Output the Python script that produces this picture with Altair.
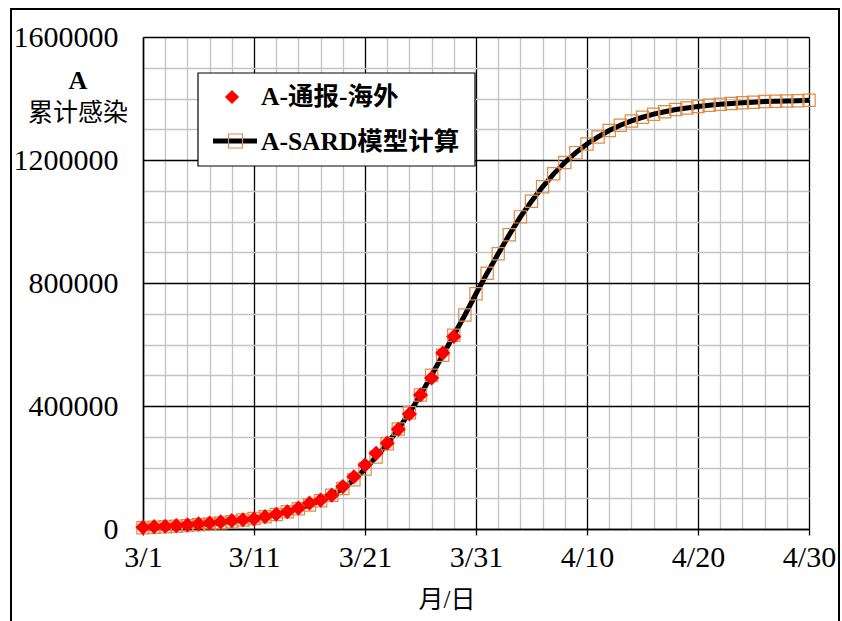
import altair as alt
import pandas as pd

# ---------------- data ----------------
dates = pd.date_range("2020-03-01", "2020-04-30", freq="D")

reported = [5500, 7500, 9000, 11000, 13500, 16500, 19500, 23000, 27000, 30000,
            33000, 40000, 48000, 56000, 68000, 84000, 94000, 110000, 138000, 170000,
            208000, 246000, 279000, 324000, 374000, 436000, 491000, 572000, 626000]

model = [4000, 5500, 7000, 9000, 11000, 13500, 16500, 20000, 24000, 29000,
         34000, 40000, 47000, 56000, 66000, 78000, 92000, 110000, 132000, 160000,
         195000, 234000, 277000, 325000, 378000, 436000, 500000, 565000, 630000, 696000, 765000,
         832000, 895000, 957000, 1015000, 1066000, 1113000, 1155000, 1192000, 1224000, 1252000,
         1275000, 1296000, 1313000, 1327000, 1339000, 1349000, 1357000, 1364000, 1369000, 1374000,
         1378000, 1381000, 1384000, 1386000, 1388000, 1390000, 1391000, 1392000, 1393000, 1394000]

legend_labels = ["A-通报-海外", "A-SARD模型计算"]
y_title_lines = ["A", "累计感染"]
x_title = "月/日"

df_model = pd.DataFrame({"date": dates, "value": model})
df_rep = pd.DataFrame({"date": dates[:len(reported)], "value": reported})
dummy = pd.DataFrame({"k": [0]})

FONT = "Liberation Serif, Noto Sans CJK SC, serif"

x_vals = [alt.DateTime(year=2020, month=int(d.month), date=int(d.day)) for d in dates[::2]]
y_vals = list(range(0, 1600001, 100000))

major_x = "round((datum.value - datetime(2020,2,1)) / 86400000) % 10 == 0"
major_y = "datum.value % 400000 == 0"

x_enc = alt.X(
    "date:T",
    scale=alt.Scale(domain=[alt.DateTime(year=2020, month=3, date=1),
                            alt.DateTime(year=2020, month=4, date=30)]),
    axis=alt.Axis(
        values=x_vals, tickCount=200, title=None, grid=True,
        labelExpr=f"{major_x} ? timeFormat(datum.value, '%-m/%-d') : ''",
        labelFont=FONT, labelFontSize=30, labelColor="black", labelPadding=7,
        labelFlush=False, labelOverlap=False,
        tickSize=6, tickWidth=1.3,
        tickColor={"condition": {"test": major_x, "value": "black"}, "value": "transparent"},
        gridColor={"condition": {"test": major_x, "value": "black"}, "value": "#c4c4c4"},
        gridWidth=1.3, gridOpacity=1,
        domainColor="black", domainWidth=1.5,
    ),
)

y_enc = alt.Y(
    "value:Q",
    scale=alt.Scale(domain=[0, 1600000], nice=False),
    axis=alt.Axis(
        values=y_vals, tickCount=200, title=None, grid=True, format="d",
        labelExpr=f"{major_y} ? datum.label : ''",
        labelFont=FONT, labelFontSize=30, labelColor="black", labelPadding=25,
        labelBaseline="middle", labelFlush=False, labelOverlap=False,
        ticks=False,
        gridColor={"condition": {"test": major_y, "value": "black"}, "value": "#c4c4c4"},
        gridWidth=1.3, gridOpacity=1,
        domainColor="black", domainWidth=1.5,
    ),
)

line = alt.Chart(df_model).mark_line(color="black", strokeWidth=5).encode(x=x_enc, y=y_enc)
squares = alt.Chart(df_model).mark_point(
    shape="square", filled=False, color="#E08A45", size=150, strokeWidth=1.2, opacity=1
).encode(x="date:T", y="value:Q")
diamonds = alt.Chart(df_rep).mark_point(
    shape="diamond", filled=True, color="#FF0000", size=230, opacity=1
).encode(x="date:T", y="value:Q")

OX, OY = 143, 37  # plot origin in page pixels
base = alt.Chart(dummy)

frame = base.mark_rect(fillOpacity=0, stroke="black", strokeWidth=2).encode(
    x=alt.value(11 - OX), x2=alt.value(839 - OX), y=alt.value(9 - OY), y2=alt.value(640 - OY))

leg_box = base.mark_rect(fill="white", stroke="black", strokeWidth=1.2).encode(
    x=alt.value(198 - OX), x2=alt.value(475 - OX), y=alt.value(73 - OY), y2=alt.value(166 - OY))
leg_diamond = base.mark_point(shape="diamond", filled=True, color="#FF0000", size=200, opacity=1).encode(
    x=alt.value(232 - OX), y=alt.value(97 - OY))
leg_line = base.mark_rule(color="black", strokeWidth=5).encode(
    x=alt.value(213 - OX), x2=alt.value(257 - OX), y=alt.value(141 - OY))
leg_square = base.mark_point(shape="square", filled=False, color="#E08A45", size=196, strokeWidth=1.2, opacity=1).encode(
    x=alt.value(235.5 - OX), y=alt.value(141 - OY))
leg_t1 = base.mark_text(align="left", baseline="middle", font=FONT, fontSize=25.5, fontWeight="bold", color="black").encode(
    x=alt.value(261 - OX), y=alt.value(97 - OY), text=alt.value(legend_labels[0]))
leg_t2 = base.mark_text(align="left", baseline="middle", font=FONT, fontSize=25.5, fontWeight="bold", color="black").encode(
    x=alt.value(261 - OX), y=alt.value(142 - OY), text=alt.value(legend_labels[1]))

ytitle1 = base.mark_text(align="center", baseline="middle", font=FONT, fontSize=26, fontWeight="bold", color="black").encode(
    x=alt.value(78 - OX), y=alt.value(81 - OY), text=alt.value(y_title_lines[0]))
ytitle2 = base.mark_text(align="center", baseline="middle", font=FONT, fontSize=25, color="black").encode(
    x=alt.value(78 - OX), y=alt.value(113 - OY), text=alt.value(y_title_lines[1]))
xtitle = base.mark_text(align="center", baseline="middle", font=FONT, fontSize=25, color="black").encode(
    x=alt.value(447 - OX), y=alt.value(600 - OY), text=alt.value(x_title))

chart = alt.layer(
    line, squares, diamonds, frame, leg_box, leg_diamond, leg_line, leg_square,
    leg_t1, leg_t2, ytitle1, ytitle2, xtitle
).properties(
    width=666, height=492,
    autosize=alt.AutoSizeParams(type="none"),
    padding={"left": OX, "top": OY, "right": 842 - OX - 666, "bottom": 621 - OY - 492},
    background="white",
).configure_view(stroke=None)

chart.save("out.html", embed_options={"renderer": "svg", "actions": False})
